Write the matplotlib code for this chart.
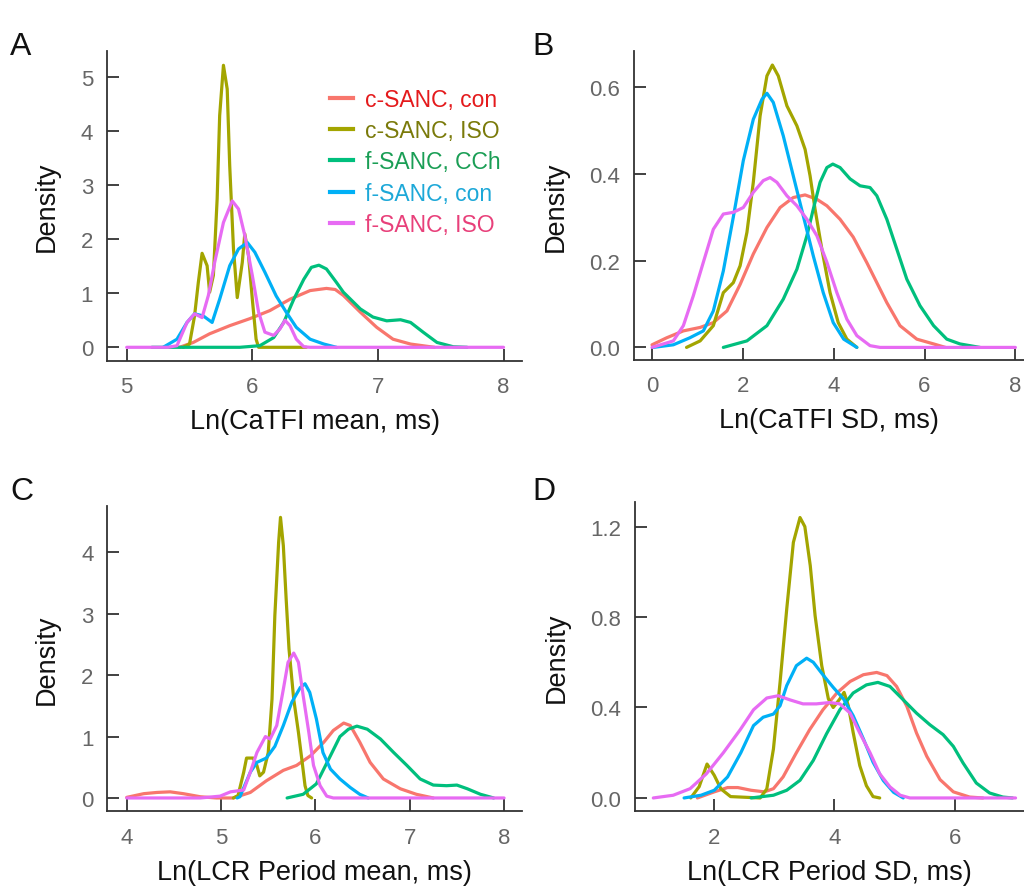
import matplotlib
matplotlib.use("Agg")
import matplotlib.pyplot as plt
from matplotlib.lines import Line2D

# ---------------- data ----------------
series_names = ["c-SANC, con", "c-SANC, ISO", "f-SANC, CCh", "f-SANC, con", "f-SANC, ISO"]
line_colors = ["#F8766D", "#A3A500", "#00BF7D", "#00B0F6", "#E76BF3"]
text_colors = ["#E41A1C", "#7A7A0A", "#1A9E55", "#1DA8D8", "#E8407A"]

# Panel A: Ln(CaTFI mean, ms)
a_ccon_x = [5.42, 5.53, 5.66, 5.82, 5.98, 6.14, 6.30, 6.46, 6.59, 6.66, 6.725, 6.86, 6.99, 7.12, 7.26, 7.45]
a_ccon_y = [0.0, 0.09, 0.25, 0.40, 0.53, 0.68, 0.89, 1.05, 1.09, 1.07, 0.96, 0.65, 0.37, 0.15, 0.06, 0.0]
a_ciso_x = [5.45, 5.50, 5.54, 5.57, 5.60, 5.64, 5.66, 5.69, 5.72, 5.74, 5.77, 5.80, 5.82, 5.85, 5.88, 5.92, 5.94, 5.97, 6.00, 6.03, 6.05, 6.43]
a_ciso_y = [0.0, 0.06, 0.58, 1.2, 1.74, 1.51, 1.02, 1.33, 2.75, 4.29, 5.22, 4.78, 3.36, 1.82, 0.92, 1.57, 2.1, 1.69, 0.89, 0.15, 0.0, 0.0]
a_fcch_x = [5.2, 5.9, 6.06, 6.17, 6.25, 6.33, 6.41, 6.47, 6.53, 6.59, 6.67, 6.725, 6.86, 6.96, 7.07, 7.18, 7.26, 7.36, 7.47, 7.60, 7.71]
a_fcch_y = [0.0, 0.0, 0.03, 0.18, 0.46, 0.89, 1.26, 1.48, 1.52, 1.45, 1.2, 1.02, 0.71, 0.56, 0.49, 0.51, 0.46, 0.28, 0.09, 0.01, 0.0]
a_fcon_x = [5.29, 5.40, 5.48, 5.54, 5.61, 5.68, 5.74, 5.82, 5.89, 5.96, 6.02, 6.10, 6.19, 6.27, 6.35, 6.46, 6.57, 6.67]
a_fcon_y = [0.0, 0.15, 0.46, 0.62, 0.58, 0.46, 0.89, 1.51, 1.82, 1.94, 1.76, 1.39, 0.95, 0.65, 0.37, 0.15, 0.06, 0.0]
a_fiso_x = [5.0, 5.33, 5.40, 5.48, 5.54, 5.60, 5.65, 5.70, 5.77, 5.84, 5.89, 5.94, 6.00, 6.05, 6.10, 6.17, 6.22, 6.26, 6.30, 6.35, 6.41, 6.46, 8.0]
a_fiso_y = [0.0, 0.0, 0.03, 0.46, 0.62, 0.55, 0.96, 1.57, 2.31, 2.71, 2.56, 2.07, 1.33, 0.65, 0.28, 0.22, 0.34, 0.5, 0.4, 0.15, 0.01, 0.0, 0.0]

# Panel B: Ln(CaTFI SD, ms)
b_ccon_x = [0.0, 0.32, 0.69, 1.06, 1.35, 1.65, 1.94, 2.23, 2.53, 2.82, 3.11, 3.37, 3.63, 3.85, 4.14, 4.43, 4.73, 4.95, 5.17, 5.46, 5.83, 6.2, 6.46]
b_ccon_y = [0.006, 0.022, 0.038, 0.046, 0.057, 0.084, 0.145, 0.215, 0.276, 0.322, 0.345, 0.351, 0.341, 0.326, 0.295, 0.254, 0.195, 0.149, 0.103, 0.05, 0.019, 0.008, 0.0]
b_ciso_x = [0.76, 1.06, 1.35, 1.57, 1.79, 1.94, 2.09, 2.23, 2.38, 2.53, 2.65, 2.78, 2.97, 3.19, 3.37, 3.48, 3.59, 3.74, 3.92, 4.10, 4.29, 4.51]
b_ciso_y = [0.0, 0.015, 0.05, 0.126, 0.149, 0.188, 0.265, 0.38, 0.533, 0.625, 0.65, 0.625, 0.556, 0.51, 0.456, 0.395, 0.318, 0.226, 0.126, 0.057, 0.019, 0.0]
b_fcch_x = [1.57, 2.09, 2.53, 2.89, 3.19, 3.41, 3.55, 3.70, 3.85, 3.98, 4.14, 4.36, 4.58, 4.80, 4.95, 5.17, 5.39, 5.61, 5.90, 6.20, 6.49, 6.78, 7.22]
b_fcch_y = [0.0, 0.015, 0.05, 0.111, 0.18, 0.257, 0.318, 0.38, 0.414, 0.422, 0.414, 0.388, 0.372, 0.368, 0.349, 0.295, 0.226, 0.157, 0.096, 0.05, 0.019, 0.008, 0.0]
b_fcon_x = [0.03, 0.47, 0.83, 1.13, 1.35, 1.57, 1.79, 2.01, 2.23, 2.42, 2.53, 2.67, 2.89, 3.11, 3.33, 3.55, 3.77, 3.99, 4.22, 4.51]
b_fcon_y = [0.0, 0.006, 0.022, 0.038, 0.084, 0.176, 0.3, 0.43, 0.525, 0.571, 0.585, 0.564, 0.487, 0.395, 0.303, 0.211, 0.126, 0.057, 0.019, 0.0]
b_fiso_x = [0.0, 0.47, 0.69, 0.91, 1.13, 1.35, 1.57, 1.79, 2.01, 2.23, 2.45, 2.60, 2.75, 2.97, 3.19, 3.41, 3.63, 3.85, 4.07, 4.29, 4.51, 4.80, 5.02, 8.0]
b_fiso_y = [0.0, 0.015, 0.05, 0.119, 0.196, 0.272, 0.307, 0.311, 0.322, 0.357, 0.384, 0.391, 0.38, 0.349, 0.326, 0.295, 0.257, 0.196, 0.126, 0.065, 0.027, 0.004, 0.0, 0.0]

# Panel C: Ln(LCR Period mean, ms)
c_ccon_x = [4.0, 4.18, 4.32, 4.46, 4.60, 4.78, 4.95, 5.13, 5.31, 5.48, 5.66, 5.80, 5.95, 6.09, 6.19, 6.30, 6.37, 6.47, 6.58, 6.72, 6.90, 7.07, 7.25]
c_ccon_y = [0.01, 0.07, 0.09, 0.10, 0.07, 0.02, 0.0, 0.0, 0.09, 0.28, 0.45, 0.53, 0.69, 0.91, 1.10, 1.22, 1.18, 0.91, 0.58, 0.31, 0.15, 0.06, 0.0]
c_ciso_x = [5.13, 5.18, 5.24, 5.27, 5.34, 5.38, 5.41, 5.45, 5.50, 5.54, 5.57, 5.61, 5.63, 5.66, 5.69, 5.72, 5.77, 5.82, 5.86, 5.89, 5.92, 5.96]
c_ciso_y = [0.0, 0.04, 0.42, 0.65, 0.65, 0.53, 0.36, 0.42, 0.74, 1.61, 2.97, 4.16, 4.57, 4.11, 3.24, 2.43, 1.61, 1.07, 0.58, 0.2, 0.04, 0.0]
c_fcch_x = [5.70, 5.87, 6.01, 6.16, 6.26, 6.35, 6.44, 6.55, 6.69, 6.83, 6.97, 7.11, 7.25, 7.39, 7.50, 7.61, 7.75, 7.89]
c_fcch_y = [0.0, 0.06, 0.23, 0.69, 1.0, 1.12, 1.17, 1.12, 0.96, 0.74, 0.53, 0.31, 0.21, 0.2, 0.21, 0.15, 0.06, 0.0]
c_fcon_x = [5.17, 5.20, 5.31, 5.38, 5.48, 5.57, 5.66, 5.75, 5.84, 5.89, 5.94, 6.01, 6.08, 6.16, 6.26, 6.37, 6.47, 6.56]
c_fcon_y = [0.0, 0.02, 0.42, 0.58, 0.65, 0.84, 1.18, 1.56, 1.8, 1.86, 1.72, 1.29, 0.74, 0.47, 0.31, 0.17, 0.06, 0.0]
c_fiso_x = [4.0, 4.78, 4.99, 5.10, 5.24, 5.31, 5.38, 5.47, 5.52, 5.59, 5.66, 5.71, 5.77, 5.82, 5.87, 5.93, 5.98, 6.05, 6.12, 6.19, 8.0]
c_fiso_y = [0.0, 0.0, 0.03, 0.1, 0.13, 0.42, 0.74, 1.0, 0.96, 1.18, 1.77, 2.21, 2.36, 2.21, 1.67, 1.07, 0.53, 0.2, 0.03, 0.0, 0.0]

# Panel D: Ln(LCR Period SD, ms)
d_ccon_x = [1.73, 2.01, 2.23, 2.40, 2.62, 2.84, 2.99, 3.15, 3.37, 3.59, 3.81, 4.04, 4.26, 4.48, 4.70, 4.87, 5.03, 5.20, 5.36, 5.53, 5.75, 5.97, 6.24, 6.46]
d_ccon_y = [0.0, 0.027, 0.046, 0.046, 0.034, 0.027, 0.041, 0.093, 0.2, 0.302, 0.39, 0.464, 0.515, 0.545, 0.555, 0.541, 0.493, 0.405, 0.287, 0.184, 0.081, 0.027, 0.004, 0.0]
d_ciso_x = [1.62, 1.76, 1.89, 2.01, 2.12, 2.28, 2.77, 2.88, 2.99, 3.10, 3.21, 3.32, 3.43, 3.51, 3.60, 3.68, 3.79, 3.90, 3.98, 4.09, 4.16, 4.23, 4.31, 4.42, 4.53, 4.64, 4.75]
d_ciso_y = [0.0, 0.05, 0.15, 0.1, 0.04, 0.006, 0.0, 0.04, 0.217, 0.512, 0.835, 1.13, 1.24, 1.2, 1.027, 0.806, 0.585, 0.438, 0.4, 0.438, 0.467, 0.408, 0.29, 0.143, 0.054, 0.006, 0.0]
d_fcch_x = [2.62, 2.99, 3.21, 3.43, 3.65, 3.87, 4.09, 4.31, 4.53, 4.72, 4.92, 5.14, 5.36, 5.58, 5.80, 5.97, 6.13, 6.35, 6.57, 6.79, 6.95]
d_fcch_y = [0.0, 0.012, 0.034, 0.078, 0.166, 0.284, 0.39, 0.464, 0.5, 0.511, 0.493, 0.434, 0.375, 0.324, 0.28, 0.228, 0.155, 0.066, 0.022, 0.004, 0.0]
d_fcon_x = [1.51, 1.79, 2.01, 2.23, 2.45, 2.66, 2.82, 2.99, 3.10, 3.21, 3.37, 3.54, 3.65, 3.82, 3.98, 4.15, 4.31, 4.48, 4.64, 4.81, 4.98, 5.14]
d_fcon_y = [0.0, 0.012, 0.034, 0.093, 0.2, 0.32, 0.357, 0.371, 0.408, 0.497, 0.585, 0.618, 0.6, 0.541, 0.489, 0.438, 0.364, 0.261, 0.158, 0.077, 0.025, 0.0]
d_fiso_x = [1.0, 1.33, 1.61, 1.88, 2.16, 2.44, 2.66, 2.88, 3.07, 3.26, 3.48, 3.70, 3.92, 4.09, 4.26, 4.42, 4.59, 4.75, 4.92, 5.09, 5.25, 7.0]
d_fiso_y = [0.0, 0.012, 0.041, 0.107, 0.2, 0.302, 0.39, 0.442, 0.452, 0.434, 0.416, 0.416, 0.422, 0.416, 0.375, 0.287, 0.2, 0.107, 0.049, 0.012, 0.0, 0.0]

panel_letters = ["A", "B", "C", "D"]
x_labels = ["Ln(CaTFI mean, ms)", "Ln(CaTFI SD, ms)", "Ln(LCR Period mean, ms)", "Ln(LCR Period SD, ms)"]
a_xticks = [5, 6, 7, 8]
a_yticks = [0, 1, 2, 3, 4, 5]
b_xticks = [0, 2, 4, 6, 8]
b_yticks = [0.0, 0.2, 0.4, 0.6]
c_xticks = [4, 5, 6, 7, 8]
c_yticks = [0, 1, 2, 3, 4]
d_xticks = [2, 4, 6]
d_yticks = [0.0, 0.4, 0.8, 1.2]

# ---------------- layout ----------------
W, H = 1024, 887
plt.rcParams["font.family"] = ["Liberation Sans", "DejaVu Sans"]
fig = plt.figure(figsize=(W / 100, H / 100), dpi=100)
fig.patch.set_facecolor("white")

panels = [
    dict(box=(107, 51.7, 522, 361.7), xlim=(4.843, 8.147), ylim=(-0.248, 5.49),
         xt=a_xticks, yt=a_yticks, yfmt="{:g}",
         data=[(a_ccon_x, a_ccon_y), (a_ciso_x, a_ciso_y), (a_fcch_x, a_fcch_y), (a_fcon_x, a_fcon_y), (a_fiso_x, a_fiso_y)]),
    dict(box=(634.3, 51.7, 1024, 361), xlim=(-0.39, 8.19), ylim=(-0.029, 0.683),
         xt=b_xticks, yt=b_yticks, yfmt="{:.1f}",
         data=[(b_ccon_x, b_ccon_y), (b_ciso_x, b_ciso_y), (b_fcch_x, b_fcch_y), (b_fcon_x, b_fcon_y), (b_fiso_x, b_fiso_y)]),
    dict(box=(107.3, 506.7, 522, 812.3), xlim=(3.794, 8.19), ylim=(-0.217, 4.76),
         xt=c_xticks, yt=c_yticks, yfmt="{:g}",
         data=[(c_ccon_x, c_ccon_y), (c_ciso_x, c_ciso_y), (c_fcch_x, c_fcch_y), (c_fcon_x, c_fcon_y), (c_fiso_x, c_fiso_y)]),
    dict(box=(635, 502.7, 1024, 812.3), xlim=(0.697, 7.14), ylim=(-0.059, 1.31),
         xt=d_xticks, yt=d_yticks, yfmt="{:.1f}",
         data=[(d_ccon_x, d_ccon_y), (d_ciso_x, d_ciso_y), (d_fcch_x, d_fcch_y), (d_fcon_x, d_fcon_y), (d_fiso_x, d_fiso_y)]),
]
letter_pos = [(10, 32), (532, 32), (10, 477), (532, 477)]

axes = []
for i, p in enumerate(panels):
    l, t, r, b = p["box"]
    ax = fig.add_axes([l / W, 1 - b / H, (r - l) / W, (b - t) / H])
    axes.append(ax)
    for (xs, ys), col in zip(p["data"], line_colors):
        ax.plot(xs, ys, color=col, lw=2.3, solid_joinstyle="round", solid_capstyle="round")
    ax.set_xlim(*p["xlim"])
    ax.set_ylim(*p["ylim"])
    ax.set_xticks(p["xt"])
    ax.set_xticklabels([f"{v:g}" for v in p["xt"]])
    ax.set_yticks(p["yt"])
    ax.set_yticklabels([p["yfmt"].format(v) for v in p["yt"]])
    for s in ["top", "right"]:
        ax.spines[s].set_visible(False)
    for s in ["left", "bottom"]:
        ax.spines[s].set_color("#333333")
        ax.spines[s].set_linewidth(1.3)
    ax.tick_params(direction="in", length=8.5, width=1.3, color="#333333",
                   labelsize=16, labelcolor="#666666")
    ax.tick_params(axis="x", pad=11)
    ax.tick_params(axis="y", pad=10)
    ax.set_xlabel(x_labels[i], fontsize=19.5, labelpad=8, color="#111111")
    ax.set_ylabel("Density", fontsize=19.5, labelpad=15, color="#111111")
    ax.set_facecolor("none")
    lx, ly = letter_pos[i]
    fig.text(lx / W, 1 - ly / H, panel_letters[i], fontsize=23, ha="left", va="top", color="#111111")

handles = [Line2D([0], [0], color=c, lw=3) for c in line_colors]
leg = axes[0].legend(handles, series_names, loc="upper left", bbox_to_anchor=(0.537, 0.88),
                     frameon=False, fontsize=16.5, handlelength=1.0, handletextpad=0.55,
                     labelspacing=0.36, borderpad=0, borderaxespad=0)
for txt, c in zip(leg.get_texts(), text_colors):
    txt.set_color(c)

fig.savefig("out.png", dpi=100, facecolor="white")
